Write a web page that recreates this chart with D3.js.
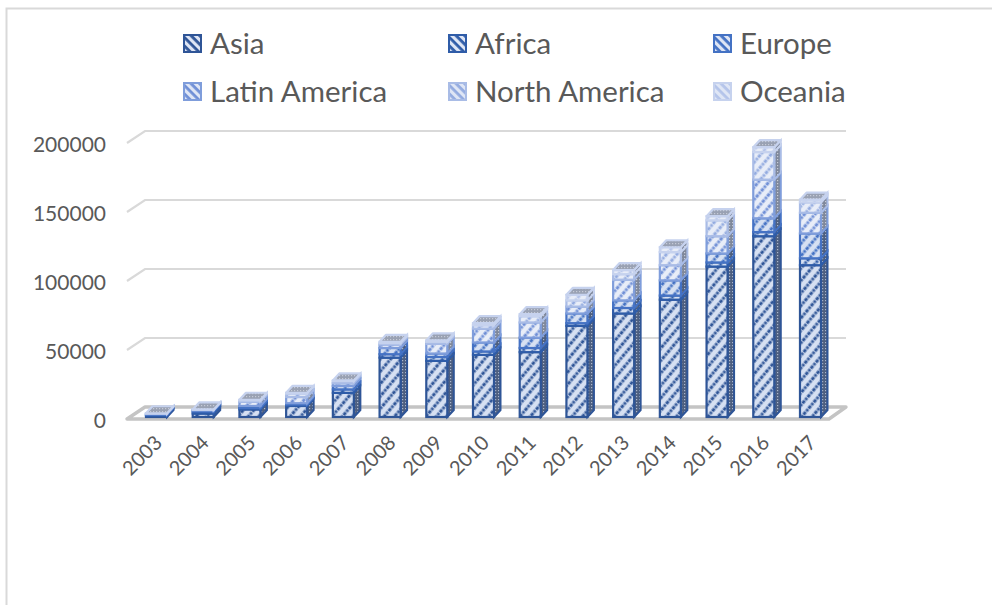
<!DOCTYPE html>
<html><head><meta charset="utf-8">
<script src="https://cdn.jsdelivr.net/npm/d3@7/dist/d3.min.js"></script>
<style>html,body{margin:0;background:#fff}svg{display:block}text{font-family:Lato,"Open Sans",sans-serif;fill:#595959}</style>
</head><body><div id="c"></div>
<script>
const years=["2003","2004","2005","2006","2007","2008","2009","2010","2011","2012","2013","2014","2015","2016","2017"];
const seriesNames=["Asia","Africa","Europe","Latin America","North America","Oceania"];
const asia=[800,2500,5500,8000,17500,43000,40700,45000,47000,66000,75000,85000,109000,131000,110000];
const africa=[700,1500,1000,1000,2500,2500,2800,2500,3000,2000,4000,3000,3000,3000,5000];
const europe=[600,800,1500,1000,2500,4500,2500,6500,7500,7000,5500,11000,6500,10000,18000];
const latinAmerica=[300,300,3000,4500,2000,2500,7000,10000,11000,5000,15000,11000,12500,28000,15000];
const northAmerica=[200,300,1000,2500,1500,1000,1500,2500,4500,4500,4000,9500,11500,20000,7500];
const oceania=[100,100,500,500,500,1000,1000,1500,1500,4000,3000,3500,3000,3500,2000];
const allSeries=[asia,africa,europe,latinAmerica,northAmerica,oceania];
const edgeColors=["#2f5597","#2f5ca8","#4472c4","#7f9ddb","#a9bce6","#c6d2ee"];
const stripeColors=["#2f5597","#2f5ca8","#4472c4","#6f8fd6","#93abe0","#b4c4ea"];
const yTicks=[0,50000,100000,150000,200000];

const W=992,H=605;
const svg=d3.select("#c").append("svg").attr("width",W).attr("height",H);
const defs=svg.append("defs");
edgeColors.forEach((c,i)=>{
  const p=defs.append("pattern").attr("id","f"+i).attr("patternUnits","userSpaceOnUse")
    .attr("width",8).attr("height",8).attr("patternTransform","rotate(-50)");
  p.append("rect").attr("width",8).attr("height",8).attr("fill",i<3?"#d6e0f2":"#e8edf8");
  p.append("line").attr("x1",0).attr("x2",8).attr("y1",2).attr("y2",2)
    .attr("stroke",stripeColors[i]).attr("stroke-width",2.8).attr("stroke-dasharray","2.4 1");
  const s=defs.append("pattern").attr("id","s"+i).attr("patternUnits","userSpaceOnUse")
    .attr("width",3).attr("height",3);
  s.append("rect").attr("width",3).attr("height",3).attr("fill",i<3?"#4d5f80":"#7f889b");
  s.append("rect").attr("width",1.2).attr("height",1.2).attr("fill",i<3?"#aab6cc":"#c8ccd6");
  const l=defs.append("pattern").attr("id","l"+i).attr("patternUnits","userSpaceOnUse")
    .attr("width",6).attr("height",6).attr("patternTransform","rotate(45)");
  l.append("rect").attr("width",6).attr("height",6).attr("fill","#dfe6f5");
  l.append("rect").attr("width",6).attr("height",2.8).attr("fill",stripeColors[i]);
});
const topGrad=defs.append("pattern").attr("id","topf").attr("patternUnits","userSpaceOnUse").attr("width",3).attr("height",3);
topGrad.append("rect").attr("width",3).attr("height",3).attr("fill","#99a1b3");
topGrad.append("rect").attr("width",1.2).attr("height",1.2).attr("fill","#c6cbd6");

svg.append("path").attr("d",`M6.5,${H}V8.5H${W}`).attr("fill","none").attr("stroke","#d9d9d9").attr("stroke-width",2);

const y=d3.scaleLinear().domain([0,200000]).range([417,141]);
const x=d3.scaleBand().domain(years).range([146,821]).paddingInner(0.55).paddingOuter(0);
const backDy=-10, gridL=127, gridB=145, gridR=846, floorR=829;

svg.append("g").selectAll("path").data(yTicks.slice(1)).join("path")
  .attr("d",d=>`M${gridL},${y(d)+2}L${gridB},${y(d)+backDy}H${gridR}`)
  .attr("fill","none").attr("stroke","#d9d9d9").attr("stroke-width",2.2);
svg.append("path")
  .attr("d",`M${gridL},${y(0)+2}L${gridB},${y(0)+backDy}H${gridR}L${floorR},${y(0)+2}Z`)
  .attr("fill","#fff").attr("stroke","#c4c4c4").attr("stroke-width",3.4).attr("stroke-linejoin","round");

const yAxis=d3.axisLeft(y).tickValues(yTicks).tickSize(0).tickPadding(0).tickFormat(d3.format("d"));
const gy=svg.append("g").attr("transform","translate(106,3.5)").call(yAxis);
gy.select(".domain").remove();
gy.selectAll("text").attr("font-size",21).attr("fill","#595959");
const xAxis=d3.axisBottom(x).tickSize(0).tickPadding(0);
const gx=svg.append("g").attr("transform","translate(0,424)").call(xAxis);
gx.select(".domain").remove();
gx.selectAll("text").attr("font-size",20).attr("fill","#595959")
  .attr("text-anchor","end").attr("dy",0)
  .attr("transform","translate(7,20) rotate(-45)");

const dx=6.5, dy=-7;
const stacked=d3.stack().keys(d3.range(6)).value((d,k)=>allSeries[k][d])(d3.range(years.length));
const soft=defs.append("filter").attr("id","soft").attr("x","-5%").attr("y","-5%").attr("width","110%").attr("height","110%");
soft.append("feGaussianBlur").attr("stdDeviation",0.4);
const barG=svg.append("g").attr("filter","url(#soft)");
years.forEach((yr,j)=>{
  const g=barG.append("g");
  const L=x(yr), R=L+x.bandwidth();
  stacked.forEach((layer,k)=>{
    const y0=y(layer[j][0]), y1=y(layer[j][1]);
    g.append("path").attr("d",`M${R},${y0}L${R+dx},${y0+dy}V${y1+dy}L${R},${y1}Z`)
      .attr("fill",`url(#s${k})`).attr("stroke",edgeColors[k]).attr("stroke-width",2);
    g.append("rect").attr("x",L).attr("y",y1).attr("width",R-L).attr("height",y0-y1)
      .attr("fill",`url(#f${k})`).attr("stroke",edgeColors[k]).attr("stroke-width",2.2);
  });
  const t=y(stacked[5][j][1]);
  g.append("path").attr("d",`M${L},${t}L${L+dx},${t+dy}H${R+dx}L${R},${t}Z`)
    .attr("fill","url(#topf)").attr("stroke",edgeColors[5]).attr("stroke-width",2.2).attr("stroke-linejoin","round");
});

const colX=[183,448,713], rowY=[34,82];
const lg=svg.append("g").selectAll("g").data(seriesNames).join("g")
  .attr("transform",(d,i)=>`translate(${colX[i%3]},${rowY[Math.floor(i/3)]})`);
lg.append("rect").attr("x",1).attr("y",1).attr("width",17).attr("height",17)
  .attr("fill",(d,i)=>`url(#l${i})`).attr("stroke",(d,i)=>edgeColors[i]).attr("stroke-width",2);
lg.append("text").attr("x",27).attr("y",19.5).attr("font-size",29.5).text(d=>d);
</script></body></html>
